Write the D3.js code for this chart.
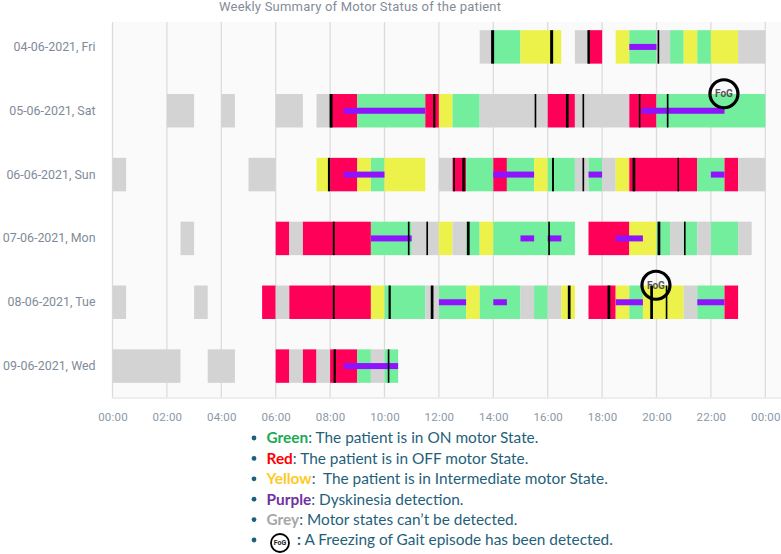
<!DOCTYPE html>
<html><head><meta charset="utf-8">
<script src="https://cdn.jsdelivr.net/npm/d3@7"></script>
<style>
html,body{margin:0;padding:0;background:#fff;overflow:hidden}
svg{display:block}
text{white-space:pre}
</style></head><body>
<svg id="c" width="781" height="554"></svg>
<script>
const days = ["04-06-2021, Fri","05-06-2021, Sat","06-06-2021, Sun","07-06-2021, Mon","08-06-2021, Tue","09-06-2021, Wed"];
const tickHours = [0,2,4,6,8,10,12,14,16,18,20,22,24];
const tickLabels = ["00:00","02:00","04:00","06:00","08:00","10:00","12:00","14:00","16:00","18:00","20:00","22:00","00:00"];

// motor states: [start hour, end hour, state]
const friStates = [[13.5,14,"grey"],[14,15,"green"],[15,16.5,"yellow"],[17,17.5,"grey"],[17.5,18,"red"],[18.5,19,"yellow"],[19,20,"green"],[20,20.5,"grey"],[20.5,21,"green"],[21,21.5,"yellow"],[21.5,22,"green"],[22,23,"yellow"],[23,24,"grey"]];
const satStates = [[2,3,"grey"],[4,4.5,"grey"],[6,7,"grey"],[7.5,8,"grey"],[8,9,"red"],[9,11.5,"green"],[11.5,12,"red"],[12,12.5,"yellow"],[12.5,13.5,"green"],[13.5,16,"grey"],[16,17,"red"],[17,19,"grey"],[19,20,"red"],[20,24,"green"]];
const sunStates = [[0,0.5,"grey"],[5,6,"grey"],[7.5,8,"yellow"],[8,9,"red"],[9,9.5,"yellow"],[9.5,10,"green"],[10,11.5,"yellow"],[12,12.5,"grey"],[12.5,13,"red"],[13,14,"green"],[14,14.5,"red"],[14.5,15.5,"green"],[15.5,16,"yellow"],[16,17,"green"],[17,17.5,"grey"],[17.5,18,"green"],[18,18.5,"grey"],[18.5,19,"yellow"],[19,21.5,"red"],[21.5,22.5,"green"],[22.5,23,"red"],[23,24,"grey"]];
const monStates = [[2.5,3,"grey"],[6,6.5,"red"],[6.5,7,"grey"],[7,9.5,"red"],[9.5,11,"green"],[11,12,"grey"],[12,12.5,"yellow"],[12.5,13,"grey"],[13,13.5,"green"],[13.5,14,"yellow"],[14,17,"green"],[17.5,19,"red"],[19,20,"yellow"],[20,20.5,"green"],[20.5,21,"grey"],[21,21.5,"green"],[21.5,22,"grey"],[22,23,"green"],[23,23.5,"grey"]];
const tueStates = [[0,0.5,"grey"],[3,3.5,"grey"],[5.5,6,"red"],[6,6.5,"grey"],[6.5,9.5,"red"],[9.5,10,"yellow"],[10,11.5,"green"],[11.5,12,"grey"],[12,13,"green"],[13,13.5,"yellow"],[13.5,15,"green"],[15,15.5,"grey"],[15.5,16,"green"],[16,16.5,"grey"],[16.5,17,"yellow"],[17.5,18.5,"red"],[18.5,19,"yellow"],[19,19.5,"green"],[19.5,21,"yellow"],[21,21.5,"grey"],[21.5,22.5,"green"],[22.5,23,"red"]];
const wedStates = [[0,2.5,"grey"],[3.5,4.5,"grey"],[6,6.5,"red"],[6.5,7,"grey"],[7,7.5,"red"],[7.5,8,"grey"],[8,9,"red"],[9,9.5,"green"],[9.5,10,"grey"],[10,10.5,"green"]];
const allStates = [friStates,satStates,sunStates,monStates,tueStates,wedStates];

// dyskinesia detections: [day index, start hour, end hour]
const dyskinesia = [[0,19,20],[1,8.5,11.5],[1,19.45,22.5],[2,8.5,10],[2,14,15.5],[2,17.5,18],[2,22,22.5],[3,9.5,11],[3,15,15.5],[3,16,16.5],[3,18.5,19.5],[4,12,13],[4,14,14.5],[4,18.5,19.5],[4,21.5,22.5],[5,8.5,10.5]];

// black event markers: [day index, start hour, end hour]
const events = [[0,13.92,14.03],[0,16.09,16.2],[0,17.46,17.55],[0,20.04,20.1],
[1,7.98,8.09],[1,11.79,11.87],[1,15.52,15.58],[1,16.67,16.77],[1,17.28,17.34],[1,19.35,19.41],[1,20.38,20.44],
[2,7.92,8.0],[2,12.53,12.59],[2,12.86,12.96],[2,16.16,16.23],[2,17.28,17.34],[2,19.12,19.22],[2,20.77,20.83],
[3,8.1,8.17],[3,10.86,10.92],[3,11.54,11.6],[3,13.03,13.13],[3,16.02,16.08],[3,20.04,20.14],[3,21.01,21.07],
[4,8.1,8.17],[4,10.15,10.23],[4,11.7,11.8],[4,16.74,16.84],[4,18.2,18.3],[4,19.77,19.87],[4,20.34,20.4],
[5,8.13,8.21],[5,10.12,10.18]];

// Freezing of Gait episodes: [day index, hour]
const fogEvents = [[1,22.48],[4,19.98]];

const stateNames = ["green","red","yellow","grey"];
const stateColors = ["#72ee9d","#ff0059","#edf24b","#d3d3d3"];
const legendKeys = ["Green","Red","Yellow","Purple","Grey",":"];
const legendKeyColors = ["#1aaa55","#ff0000","#ffc91f","#7030a0","#a6a6a6","#1f5f7a"];
const legendTexts = [": The patient is in ON motor State.",": The patient is in OFF motor State.",":  The patient is in Intermediate motor State.",": Dyskinesia detection.",": Motor states can’t be detected."," A Freezing of Gait episode has been detected."];

const svg = d3.select("#c");
const x = d3.scaleLinear().domain([0,24]).range([112.5,765.3]);
const y = d3.scaleBand().domain(days).range([15,398]).paddingInner(0.476).paddingOuter(0.238);
const stateColor = d3.scaleOrdinal().domain(stateNames).range(stateColors);
const font = "Roboto, sans-serif";

svg.append("rect").attr("x",112).attr("y",22).attr("width",669).attr("height",376).attr("fill","#fafafa");

svg.append("g").selectAll("line").data(tickHours).join("line")
  .attr("x1",d=>x(d)).attr("x2",d=>x(d)).attr("y1",22).attr("y2",398)
  .attr("stroke","#dcdcdc").attr("stroke-width",1.3);
svg.append("line").attr("x1",112).attr("x2",781).attr("y1",398).attr("y2",398).attr("stroke","#e8e8e8").attr("stroke-width",1.3);

allStates.forEach((segs,i)=>{
  svg.append("g").selectAll("rect").data(segs).join("rect")
    .attr("x",d=>x(d[0])).attr("width",d=>x(d[1])-x(d[0]))
    .attr("y",y(days[i])).attr("height",y.bandwidth())
    .attr("fill",d=>stateColor(d[2]));
});

svg.append("g").selectAll("rect").data(dyskinesia).join("rect")
  .attr("x",d=>x(d[1])).attr("width",d=>x(d[2])-x(d[1]))
  .attr("y",d=>y(days[d[0]])+y.bandwidth()/2-3).attr("height",6)
  .attr("fill","#9013fe");

svg.append("g").selectAll("rect").data(events).join("rect")
  .attr("x",d=>x(d[1])).attr("width",d=>x(d[2])-x(d[1]))
  .attr("y",d=>y(days[d[0]])).attr("height",y.bandwidth())
  .attr("fill","#000");

const fog = svg.append("g").selectAll("g").data(fogEvents).join("g")
  .attr("transform",d=>`translate(${x(d[1])},${y(days[d[0]])+y.bandwidth()/2-17})`);
fog.append("circle").attr("r",14).attr("fill","none").attr("stroke","#000").attr("stroke-width",3.2);
fog.append("text").attr("text-anchor","middle").attr("dy","0.35em").attr("font-family",font)
  .attr("font-size",10).attr("font-weight",700).attr("fill","#555").text("FoG");

const xAxis = d3.axisBottom(x).tickValues(tickHours).tickSize(0).tickPadding(15).tickFormat((d,i)=>tickLabels[i]);
const gx = svg.append("g").attr("transform","translate(0,398)").call(xAxis);
gx.select(".domain").remove();
gx.selectAll("text").attr("font-family",font).attr("font-size",11.5).attr("fill","#8b97a8").attr("letter-spacing",0.2);

const yAxis = d3.axisLeft(y).tickSize(0).tickPadding(17);
const gy = svg.append("g").attr("transform","translate(112.5,0)").call(yAxis);
gy.select(".domain").remove();
gy.selectAll("text").attr("font-family",font).attr("font-size",12.4).attr("fill","#808b99");

svg.append("text").attr("x",219).attr("y",11).attr("font-family",font).attr("font-size",13)
  .attr("letter-spacing",0.2).attr("fill","#858c98").text("Weekly Summary of Motor Status of the patient");

// legend
const rowY = d3.scalePoint().domain(d3.range(6)).range([438,540]);
const lg = svg.append("g").selectAll("g").data(legendTexts).join("g")
  .attr("transform",(d,i)=>`translate(0,${rowY(i)})`);
lg.append("circle").attr("cx",254).attr("r",2.4).attr("fill","#1f5f7a");
const lt = lg.append("text").attr("x",(d,i)=>legendKeys[i]===":"?297:266.5).attr("dy","0.35em")
  .attr("font-family","Lato, sans-serif").attr("font-size",15.4).attr("fill","#1f5f7a");
lt.append("tspan").attr("font-weight",700).attr("fill",(d,i)=>legendKeyColors[i]).text((d,i)=>legendKeys[i]);
lt.append("tspan").text(d=>d);

const icon = svg.append("g").attr("transform",`translate(280,${rowY(5)+3})`);
icon.append("circle").attr("r",9).attr("fill","#fff").attr("stroke","#000").attr("stroke-width",1.8);
icon.append("text").attr("text-anchor","middle").attr("dy","0.35em").attr("font-family",font)
  .attr("font-size",7).attr("font-weight",700).attr("fill","#222").text("FoG");
</script>
</body></html>
